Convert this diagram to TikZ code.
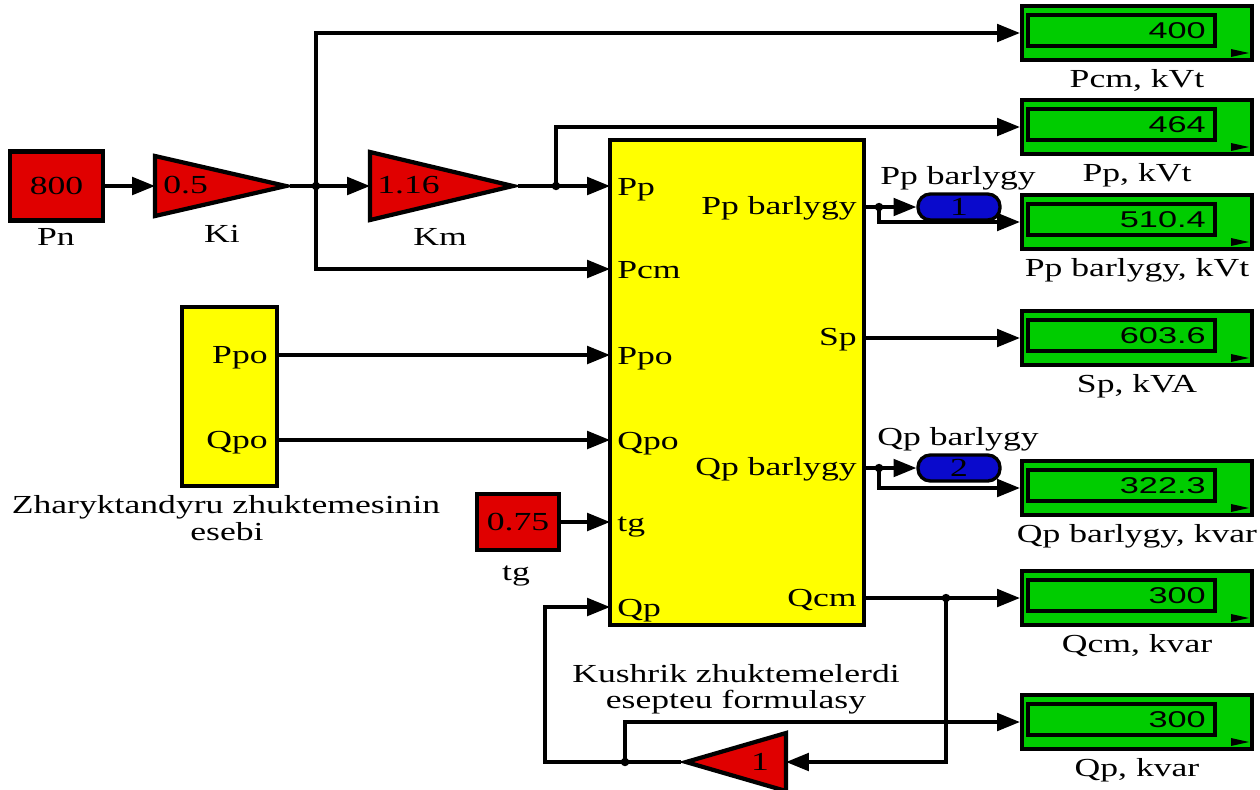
\documentclass[tikz,border=0pt]{standalone}
\usepackage{fontspec}
\setmainfont{Liberation Serif}[FakeStretch=1.37]
\newfontfamily\dispfont{Liberation Sans}[FakeStretch=1.5]
\usetikzlibrary{arrows.meta}
\definecolor{sred}{HTML}{E00000}
\definecolor{syel}{HTML}{FFFF00}
\definecolor{sgrn}{HTML}{00CC00}
\definecolor{sblu}{HTML}{0A0ACC}
\tikzset{
  txt/.style={inner sep=0pt, font=\fontsize{14.8}{17}\selectfont},
  dnum/.style={inner sep=0pt, font=\dispfont\fontsize{13}{15}\selectfont},
  wire/.style={line width=1.9pt},
  sig/.style={wire, -{Triangle[length=13pt,width=10pt]}},
  blk/.style={draw, line width=2.4pt},
  disp/.style={draw, line width=2.4pt, fill=sgrn, minimum width=4.6cm, minimum height=1.08cm, inner sep=0pt},
  gotoblk/.style={draw, line width=1.9pt, fill=sblu, rounded corners=7pt, minimum width=1.64cm, minimum height=0.52cm, txt},
  dot/.style={fill=black}
}
\newcommand{\mydisp}[4]{%
  \node[disp] (#1) at (1137,#2) {};
  \draw[line width=2.1pt] (1028,#2-18) rectangle (1215,#2+13);
  \node[dnum, anchor=east] (#1v) at (1206,#2-2) {#3};
  \fill (1231,#2+16) -- (1249,#2+20) -- (1231,#2+24) -- cycle;
  \node[txt, anchor=base] (#1l) at (1137,#2+54) {#4};
}
\begin{document}
\begin{tikzpicture}[x=0.02cm, y=-0.02cm]
\useasboundingbox (0,0) rectangle (1260,789);

% ---- sources and gains ----
\node[blk, fill=sred, txt, minimum width=1.86cm, minimum height=1.38cm] (Pn) at (56.5,186) {800};
\node[txt, anchor=base] (Pnl) at (56,245) {Pn};

\draw[blk, fill=sred] (155,156) -- (155,216) -- (286,186) -- cycle;
\coordinate (Kiin) at (155,186);
\coordinate (Kiout) at (290,186);
\node[txt, anchor=base west] (Kiv) at (163,193) {0.5};
\node[txt, anchor=base] (Kil) at (222,242) {Ki};

\draw[blk, fill=sred] (370,152) -- (370,220) -- (513,186) -- cycle;
\coordinate (Kmin) at (370,186);
\coordinate (Kmout) at (518,186);
\node[txt, anchor=base west] (Kmv) at (377,193) {1.16};
\node[txt, anchor=base] (Kml) at (440,245) {Km};

\node[blk, fill=syel, minimum width=1.9cm, minimum height=3.58cm] (L) at (229.5,396.5) {};
\node[txt, anchor=base east] (Lppo) at (268,363) {Ppo};
\node[txt, anchor=base east] (Lqpo) at (268,448) {Qpo};
\coordinate (Lppoout) at (277,355);
\coordinate (Lqpoout) at (277,440);
\node[txt, anchor=base] (Ll1) at (226,513) {Zharyktandyru zhuktemesinin};
\node[txt, anchor=base] (Ll2) at (227,540) {esebi};

\node[blk, fill=sred, txt, minimum width=1.64cm, minimum height=1.12cm] (tg) at (518,522) {0.75};
\node[txt, anchor=base] (tgl) at (516,580) {tg};

% ---- main block ----
\node[blk, fill=syel, minimum width=5.08cm, minimum height=9.7cm] (M) at (737,382.5) {};
\coordinate (Mpp) at (610,186);
\coordinate (Mpcm) at (610,269);
\coordinate (Mppo) at (610,355);
\coordinate (Mqpo) at (610,440);
\coordinate (Mtg) at (610,522);
\coordinate (Mqp) at (610,607);
\coordinate (Mppb) at (864,207);
\coordinate (Msp) at (864,338);
\coordinate (Mqpb) at (864,468);
\coordinate (Mqcm) at (864,598);
\node[txt, anchor=base west] at (617,195) {Pp};
\node[txt, anchor=base west] at (617,278) {Pcm};
\node[txt, anchor=base west] at (617,364) {Ppo};
\node[txt, anchor=base west] at (617,449) {Qpo};
\node[txt, anchor=base west] at (617,531) {tg};
\node[txt, anchor=base west] at (617,616) {Qp};
\node[txt, anchor=base east] at (857,214) {Pp barlygy};
\node[txt, anchor=base east] at (857,345) {Sp};
\node[txt, anchor=base east] at (857,475) {Qp barlygy};
\node[txt, anchor=base east] at (857,606) {Qcm};
\node[txt, anchor=base] (Ml1) at (736,682) {Kushrik zhuktemelerdi};
\node[txt, anchor=base] (Ml2) at (736,708) {esepteu formulasy};

% ---- gotos ----
\node[gotoblk] (G1) at (959,207) {1};
\node[txt, anchor=base] (G1l) at (958,184) {Pp barlygy};
\node[gotoblk] (G2) at (959,468) {2};
\node[txt, anchor=base] (G2l) at (958,445) {Qp barlygy};

% ---- bottom gain ----
\draw[blk, fill=sred] (786,733) -- (786,791) -- (686,762) -- cycle;
\coordinate (G3in) at (786,762);
\coordinate (G3out) at (681,762);
\node[txt, anchor=base] (G3v) at (760,770) {1};

% ---- displays ----
\mydisp{D1}{33}{400}{Pcm, kVt}
\mydisp{D2}{127}{464}{Pp, kVt}
\mydisp{D3}{222}{510.4}{Pp barlygy, kVt}
\mydisp{D4}{338}{603.6}{Sp, kVA}
\mydisp{D5}{488}{322.3}{Qp barlygy, kvar}
\mydisp{D6}{598}{300}{Qcm, kvar}
\mydisp{D7}{722}{300}{Qp, kvar}

% ---- junctions ----
\coordinate (j1) at (316,186);
\coordinate (j2) at (556,186);
\coordinate (j3) at (879,207);
\coordinate (j4) at (879,468);
\coordinate (j5) at (946,598);
\coordinate (j6) at (625,762);
\coordinate (c1) at (545,762);

% ---- connectors ----
\draw[sig] (Pn.east) -- (Kiin);
\draw[sig] (Kiout) -- (Kmin);
\draw[sig] (j1) |- (D1.west);
\draw[sig] (j1) |- (Mpcm);
\draw[sig] (Kmout) -- (Mpp);
\draw[sig] (j2) |- (D2.west);
\draw[sig] (Lppoout) -- (Mppo);
\draw[sig] (Lqpoout) -- (Mqpo);
\draw[sig] (tg.east) -- (Mtg);
\draw[sig] (Mppb) -- (G1.west);
\draw[sig] (j3) |- (D3.west);
\draw[sig] (Msp) -- (D4.west);
\draw[sig] (Mqpb) -- (G2.west);
\draw[sig] (j4) |- (D5.west);
\draw[sig] (Mqcm) -- (D6.west);
\draw[sig] (j5) |- (G3in);
\draw[sig] (G3out) -- (c1) |- (Mqp);
\draw[sig] (j6) |- (D7.west);

\foreach \j in {j1,j2,j3,j4,j5,j6} \fill[dot] (\j) circle (2.4pt);
\end{tikzpicture}
\end{document}
